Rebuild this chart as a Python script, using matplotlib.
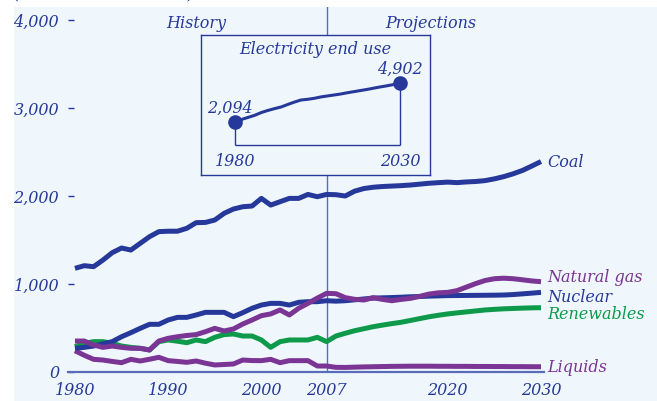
import numpy as np
import matplotlib
matplotlib.use("Agg")
import matplotlib.pyplot as plt
from matplotlib.patches import Rectangle

# Geração de eletricidade por combustível, 1980-2030 (bilhões de kWh)
anos = np.arange(1980, 2031)

coal = [1178, 1208, 1197, 1272, 1356, 1409, 1386, 1462, 1538, 1595,
        1600, 1600, 1633, 1697, 1700, 1727, 1803, 1852, 1878, 1886,
        1973, 1897, 1935, 1973, 1973, 2018, 1992, 2018,
        2015, 2000, 2055, 2085, 2100, 2108, 2113, 2118, 2125, 2135,
        2145, 2152, 2158, 2152, 2160, 2165, 2175, 2195, 2220, 2252,
        2290, 2340, 2392]
natural_gas = [352, 352, 307, 280, 295, 280, 269, 269, 250, 352,
               383, 401, 415, 425, 458, 496, 466, 489, 545, 591,
               640, 660, 705, 648, 724, 780, 840, 894,
               890, 845, 826, 818, 845, 825, 810, 825, 837, 860,
               886, 900, 905, 925, 965, 1005, 1040, 1060, 1066, 1060,
               1048, 1035, 1026]
nuclear = [269, 280, 295, 320, 345, 401, 447, 496, 542, 542,
           591, 621, 621, 648, 678, 678, 678, 629, 674, 724,
           761, 780, 780, 761, 792, 799, 799, 810,
           805, 810, 820, 830, 840, 843, 846, 850, 855, 858,
           862, 865, 868, 869, 870, 871, 872, 873, 875, 880,
           888, 896, 905]
renewables = [288, 326, 345, 345, 326, 295, 280, 269, 250, 345,
              364, 350, 333, 364, 345, 394, 425, 432, 409, 409,
              364, 280, 345, 364, 364, 364, 394, 345,
              409, 440, 469, 492, 515, 533, 550, 565, 586, 607,
              628, 645, 660, 672, 683, 694, 705, 712, 718, 722,
              726, 729, 731]
liquids = [242, 190, 144, 136, 120, 106, 144, 125, 145, 167,
           129, 120, 110, 125, 100, 80, 85, 91, 136, 130,
           129, 144, 106, 129, 129, 129, 68, 68,
           53, 52, 55, 58, 60, 62, 64, 65, 66, 66,
           66, 65, 65, 64, 64, 63, 63, 62, 62, 61,
           61, 60, 60]

# Uso final de eletricidade (quadro interno)
anos_uso = np.arange(1980, 2031, 2)
uso_final = [2094, 2300, 2450, 2600, 2800, 2950, 3080, 3200, 3380, 3550,
             3700, 3750, 3820, 3920, 3990, 4060, 4130, 4220, 4300, 4380,
             4460, 4550, 4640, 4720, 4810, 4902]

x_ticks = [1980, 1990, 2000, 2007, 2020, 2030]
y_ticks = [0, 1000, 2000, 3000, 4000]

navy = '#26399A'
purple = '#7B3595'
green = '#0E9A4A'
fundo = '#EFF7FD'
linha_clara = '#5A6CB8'

plt.rcParams['font.family'] = 'DejaVu Serif'
plt.rcParams['font.style'] = 'italic'

W, H = 657, 401
fig = plt.figure(figsize=(W / 100, H / 100), dpi=100, facecolor='white')
fig.patches.append(Rectangle((14 / W, 0), 1 - 14 / W, (H - 7) / H,
                             transform=fig.transFigure, facecolor=fundo,
                             edgecolor='none', zorder=-5))
fig.text(14 / W, (H + 2) / H, '(billion kilowatthours)', color=navy,
         fontsize=11.5, ha='left', va='baseline')


def px(x0, y0, x1, y1):
    # retângulo em pixels (origem no topo) -> coordenadas da figura
    return [x0 / W, (H - y1) / H, (x1 - x0) / W, (y1 - y0) / H]


ax = fig.add_axes(px(67.5, 7, 543.8, 372))
ax.set_facecolor('none')
ax.set_xlim(1979.2, 2030.3)
ax.set_ylim(0, 4148)

ax.axvline(2007, color=linha_clara, lw=1, zorder=1)

series = [
    (renewables, green, 'Renewables', -8.4),
    (liquids, purple, 'Liquids', -3.6),
    (nuclear, navy, 'Nuclear', -6.8),
    (natural_gas, purple, 'Natural gas', 0),
    (coal, navy, 'Coal', -3.6),
]
for valores, cor, nome, dy in series:
    ax.plot(anos, valores, color=cor, lw=3.6, solid_capstyle='butt', zorder=3)
    ax.annotate(nome, (anos[-1], valores[-1]), xytext=(4.3, dy),
                textcoords='offset points', color=cor, fontsize=11.5,
                ha='left', va='baseline', annotation_clip=False)

for s in ['top', 'right', 'left']:
    ax.spines[s].set_visible(False)
ax.spines['bottom'].set_color(linha_clara)
ax.spines['bottom'].set_linewidth(1.6)

ax.set_xticks(x_ticks)
ax.set_xticklabels([str(a) for a in x_ticks])
ax.set_yticks(y_ticks)
ax.set_yticklabels(['0' if v == 0 else f'{v:,}' for v in y_ticks])
ax.tick_params(axis='x', length=0, pad=7, labelsize=11.5, labelcolor=navy)
ax.tick_params(axis='y', direction='in', length=4, width=1, color=navy,
               pad=6, labelsize=11.5, labelcolor=navy)

ax.text(1993, 3955, 'History', color=navy, fontsize=11.5, ha='center', va='center')
ax.text(2018.2, 3955, 'Projections', color=navy, fontsize=11.5, ha='center', va='center')

# Quadro interno: uso final de eletricidade
ins = fig.add_axes(px(201, 35, 430, 175))
ins.set_facecolor(fundo)
for s in ins.spines.values():
    s.set_color(navy)
    s.set_linewidth(1)
ins.set_xticks([])
ins.set_yticks([])
ins.set_xlim(1969.7, 2039.1)
ins.set_ylim(-1700, 8380)

base = 460
ins.vlines([anos_uso[0], anos_uso[-1]], base, [uso_final[0], uso_final[-1]],
           color=navy, lw=1)
ins.hlines(base, anos_uso[0], anos_uso[-1], color=navy, lw=1)
ins.plot(anos_uso, uso_final, color=navy, lw=2.2)
ins.plot([anos_uso[0], anos_uso[-1]], [uso_final[0], uso_final[-1]], 'o',
         color=navy, ms=9.5)

ins.text(0.5, 0.9, 'Electricity end use', transform=ins.transAxes,
         color=navy, fontsize=11.5, ha='center', va='center')
ins.annotate(f'{uso_final[0]:,}', (anos_uso[0], uso_final[0]), xytext=(-4, 10),
             textcoords='offset points', color=navy, fontsize=11.5,
             ha='center', va='center')
ins.annotate(f'{uso_final[-1]:,}', (anos_uso[-1], uso_final[-1]), xytext=(0, 10),
             textcoords='offset points', color=navy, fontsize=11.5,
             ha='center', va='center')
for a in [anos_uso[0], anos_uso[-1]]:
    ins.annotate(str(a), (a, base), xytext=(0, -12), textcoords='offset points',
                 color=navy, fontsize=11.5, ha='center', va='center')

fig.savefig('out.png', dpi=100, facecolor='white')
